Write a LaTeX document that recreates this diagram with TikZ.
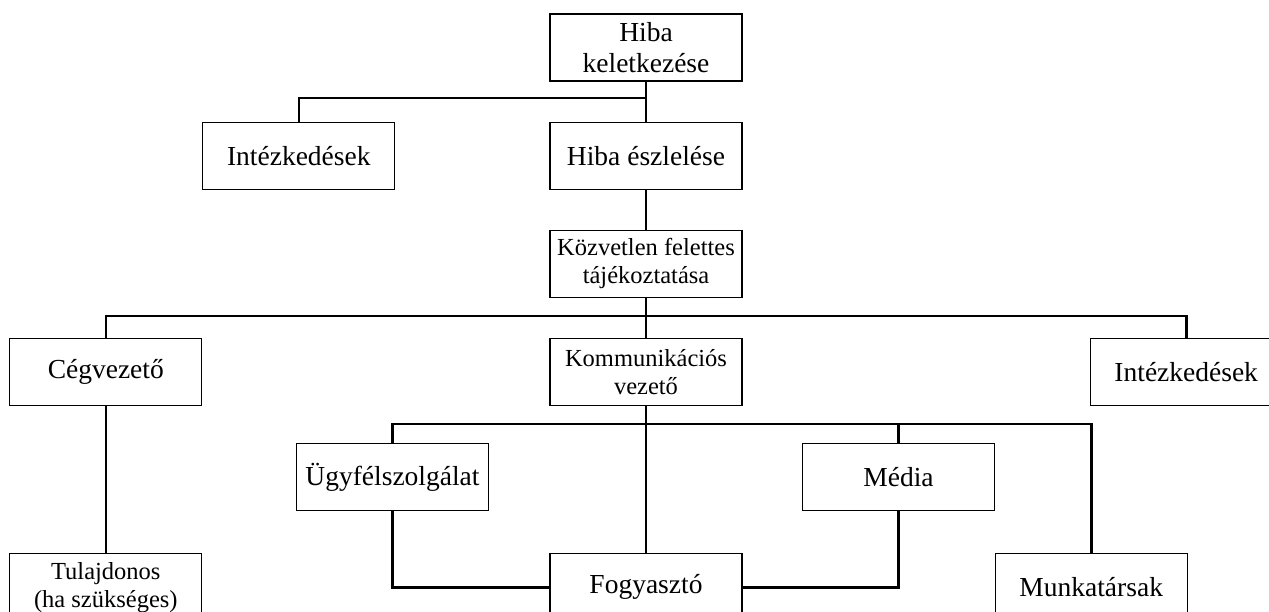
\documentclass[tikz,border=0pt]{standalone}
\usepackage{fontspec}
\setmainfont{Liberation Serif}
\usetikzlibrary{positioning}

\newcommand{\bigtext}{\fontsize{27.5}{31}\selectfont}
\newcommand{\smalltext}{\fontsize{24.5}{28}\selectfont}

\begin{document}
\begin{tikzpicture}[
   x=1pt, y=-1pt,
   node distance= 40pt and 154pt,
      box/.style = {draw, line width=1.2pt, align=center,
                    minimum width=192pt, minimum height=67pt,
                    inner sep=2pt, font=\bigtext},
 smallbox/.style = {box, font=\smalltext},
     conn/.style = {line width=2.6pt}
                    ]
\useasboundingbox (0,0) rectangle (1269,612);
\clip (0,0) rectangle (1269,612);
 % main column
\node (keletkezes) [box] at (646,47.5) {Hiba\\keletkezése};
\node (eszleles)   [box, below=of keletkezes]  {Hiba észlelése};
\node (intez1)     [box, left=of eszleles]     {Intézkedések};
\node (kozvetlen)  [smallbox, below=of eszleles] {Közvetlen felettes\\tájékoztatása};
\node (kommvez)    [smallbox, below=of kozvetlen] {Kommunikációs\\vezető};
\node (cegvezeto)  [box, left=347pt of kommvez]  {Cégvezető};
\node (intez2)     [box, right=347pt of kommvez] {Intézkedések};
\node (fogyaszto)  [box, below=147pt of kommvez] {Fogyasztó};
\node (munkatars)  [box, right=252pt of fogyaszto] {Munkatársak};
\node (tulajdonos) [smallbox, below=147pt of cegvezeto] {Tulajdonos\\(ha szükséges)};
\node (ugyfel)     [box] at (392.5,477) {Ügyfélszolgálat};
\node (media)      [box] at (898.5,477) {Média};

\coordinate (split1) at (keletkezes.south |- 0,98);
\coordinate (split2) at (kozvetlen.south |- 0,316);
\coordinate (split3) at (kommvez.south |- 0,424);

 % connectors
\draw[conn] (keletkezes.south) -- (eszleles.north);
\draw[conn] (intez1.north) |- (split1);
\draw[conn] (eszleles.south) -- (kozvetlen.north);
\draw[conn] (kozvetlen.south) -- (kommvez.north);
\draw[conn] (cegvezeto.north) |- (split2) -| (intez2.north);
\draw[conn] (cegvezeto.south) -- (tulajdonos.north);
\draw[conn] (kommvez.south) -- (fogyaszto.north);
\draw[conn] (ugyfel.north) |- (split3) -| (munkatars.north);
\draw[conn] (media.north) -- (media.north |- split3);
\draw[conn] (ugyfel.south) |- (fogyaszto.west);
\draw[conn] (media.south) |- (fogyaszto.east);
\end{tikzpicture}
\end{document}
